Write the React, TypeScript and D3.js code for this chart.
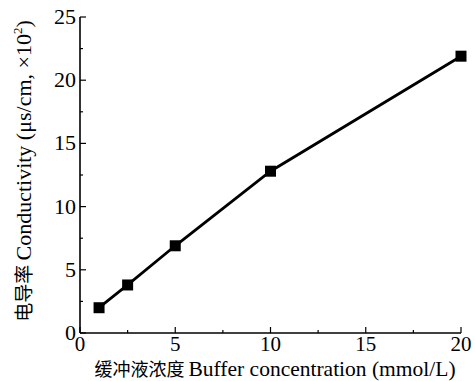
import { useEffect, useRef } from "react";
import * as d3 from "d3";

const concentrations = [1, 2.5, 5, 10, 20];
const conductivity = [2.0, 3.8, 6.9, 12.8, 21.9];
const xTicks = [0, 5, 10, 15, 20];
const yTicks = [0, 5, 10, 15, 20, 25];
const xMinor = [2.5, 7.5, 12.5, 17.5];
const yMinor = [2.5, 7.5, 12.5, 17.5, 22.5];

const W = 475;
const H = 381;
const serif = "Liberation Serif, Times New Roman, DejaVu Serif, serif";
const cjk = "Noto Sans CJK SC, sans-serif";

const App = () => {
  const ref = useRef<SVGSVGElement>(null);

  useEffect(() => {
    if (!ref.current) return;
    const svg = d3.select(ref.current);
    svg.selectAll("*").remove();

    const x = d3.scaleLinear().domain([0, 20]).range([80, 461]);
    const y = d3.scaleLinear().domain([0, 25]).range([333, 17]);

    const g = svg.append("g");

    // axes lines
    g.append("line").attr("x1", x(0)).attr("x2", x(20)).attr("y1", y(0)).attr("y2", y(0))
      .attr("stroke", "#000").attr("stroke-width", 1.6);
    g.append("line").attr("x1", x(0)).attr("x2", x(0)).attr("y1", y(0)).attr("y2", y(25))
      .attr("stroke", "#000").attr("stroke-width", 1.6);

    // x ticks (inward)
    xTicks.forEach(t => {
      g.append("line").attr("x1", x(t)).attr("x2", x(t)).attr("y1", y(0)).attr("y2", y(0) - 6)
        .attr("stroke", "#000").attr("stroke-width", 1.2);
      g.append("text").attr("x", x(t)).attr("y", 351)
        .attr("text-anchor", "middle").style("font-family", serif).attr("font-size", 21)
        .text(t);
    });
    xMinor.forEach(t => {
      g.append("line").attr("x1", x(t)).attr("x2", x(t)).attr("y1", y(0)).attr("y2", y(0) - 3)
        .attr("stroke", "#000").attr("stroke-width", 1.2);
    });

    // y ticks (inward)
    yTicks.forEach(t => {
      g.append("line").attr("x1", x(0)).attr("x2", x(0) + 6).attr("y1", y(t)).attr("y2", y(t))
        .attr("stroke", "#000").attr("stroke-width", 1.2);
      g.append("text").attr("x", x(0) - 4).attr("y", y(t) + 7)
        .attr("text-anchor", "end").style("font-family", serif).attr("font-size", 22)
        .text(t);
    });
    yMinor.forEach(t => {
      g.append("line").attr("x1", x(0)).attr("x2", x(0) + 3).attr("y1", y(t)).attr("y2", y(t))
        .attr("stroke", "#000").attr("stroke-width", 1.2);
    });

    const pts = concentrations.map((c, i) => [c, conductivity[i]] as [number, number]);

    const line = d3.line<[number, number]>().x(d => x(d[0])).y(d => y(d[1]));
    g.append("path").datum(pts).attr("d", line).attr("fill", "none")
      .attr("stroke", "#000").attr("stroke-width", 2.8);

    const s = 11;
    g.selectAll("rect.pt").data(pts).enter().append("rect")
      .attr("x", d => x(d[0]) - s / 2).attr("y", d => y(d[1]) - s / 2)
      .attr("width", s).attr("height", s).attr("fill", "#000");

    // x label
    const xl = g.append("text").attr("x", 275).attr("y", 376).attr("text-anchor", "middle")
      .attr("font-size", 21.5).attr("fill", "#000");
    xl.append("tspan").style("font-family", cjk).attr("font-size", 18).text("缓冲液浓度 ");
    xl.append("tspan").style("font-family", serif).text("Buffer concentration (mmol/L)");

    // y label
    const yl = g.append("text").attr("transform", "translate(31,171) rotate(-90)")
      .attr("text-anchor", "middle").attr("font-size", 22).attr("fill", "#000");
    yl.append("tspan").style("font-family", cjk).attr("font-size", 19).text("电导率  ");
    yl.append("tspan").style("font-family", serif).text("Conductivity (μs/cm, ×10");
    yl.append("tspan").style("font-family", serif).attr("font-size", 13).attr("dy", -9).text("2");
    yl.append("tspan").style("font-family", serif).attr("dy", 9).text(")");
  }, []);

  return (
    <svg ref={ref} width={W} height={H} style={{ position: "absolute", left: 0, top: 0, background: "#fff" }} />
  );
};

export default App;
